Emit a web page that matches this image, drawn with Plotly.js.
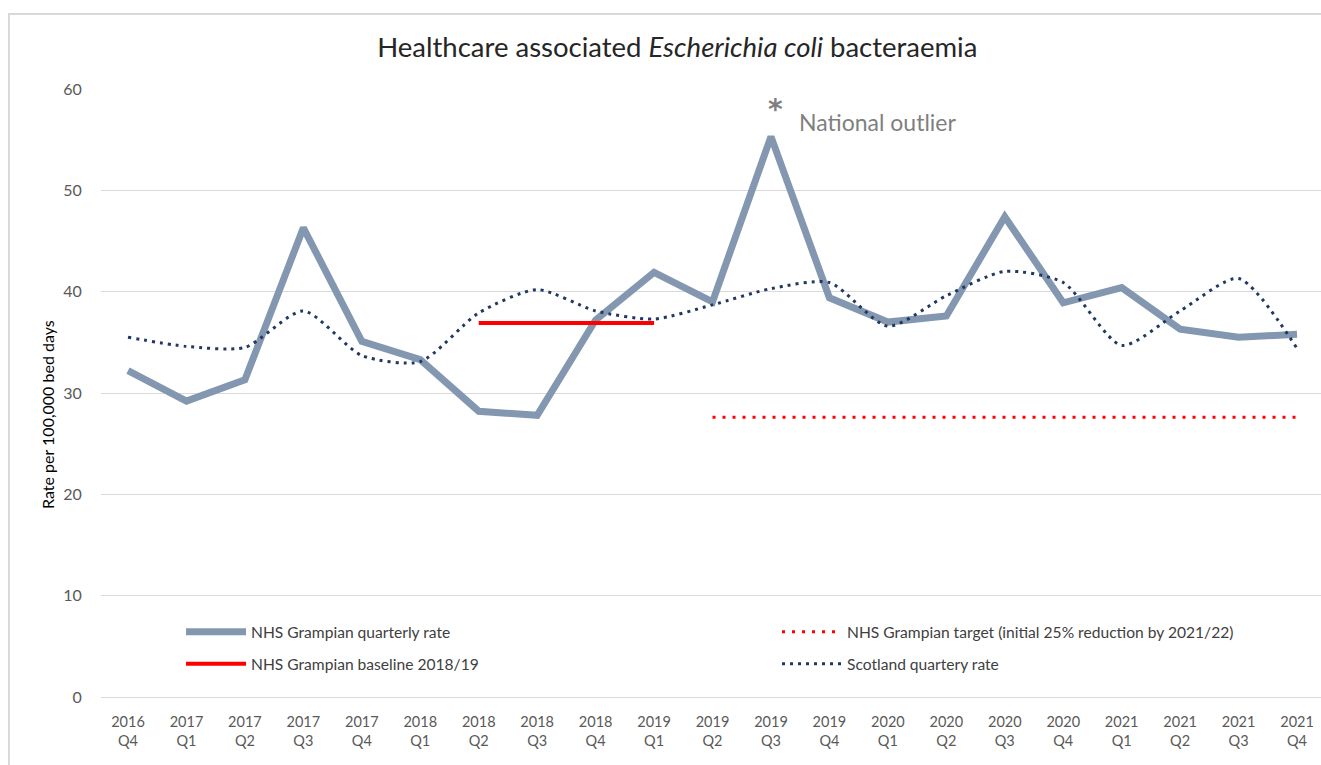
<!DOCTYPE html>
<html>
<head>
<meta charset="utf-8">
<script src="https://cdn.plot.ly/plotly-3.0.1.min.js"></script>
<style>
  html, body { margin: 0; padding: 0; overflow: hidden; background: #fff; width: 1321px; height: 765px; }
  #frame { position: absolute; left: 8px; top: 13px; width: 1330px; height: 770px; border: 2px solid #d9d9d9; box-sizing: border-box; }
  #chart { position: absolute; left: 10px; top: 15px; width: 1311px; height: 750px; }
</style>
</head>
<body>
<div id="frame"></div>
<div id="chart"></div>
<script>
const quarters = ["2016<br>Q4","2017<br>Q1","2017<br>Q2","2017<br>Q3","2017<br>Q4","2018<br>Q1","2018<br>Q2","2018<br>Q3","2018<br>Q4","2019<br>Q1","2019<br>Q2","2019<br>Q3","2019<br>Q4","2020<br>Q1","2020<br>Q2","2020<br>Q3","2020<br>Q4","2021<br>Q1","2021<br>Q2","2021<br>Q3","2021<br>Q4"];

const grampianRate = [32.2, 29.2, 31.3, 46.3, 35.1, 33.3, 28.2, 27.8, 37.2, 41.9, 39.0, 55.3, 39.4, 37.0, 37.6, 47.4, 38.9, 40.4, 36.3, 35.5, 35.8];
const scotlandRate = [35.5, 34.6, 34.5, 38.1, 33.7, 33.1, 37.9, 40.2, 38.1, 37.3, 38.7, 40.3, 40.9, 36.6, 39.6, 42.0, 40.9, 34.7, 38.1, 41.3, 34.4];

const baselineQuarters = ["2018<br>Q2","2018<br>Q3","2018<br>Q4","2019<br>Q1"];
const baselineValue = 36.9;
const targetQuarters = ["2019<br>Q2","2019<br>Q3","2019<br>Q4","2020<br>Q1","2020<br>Q2","2020<br>Q3","2020<br>Q4","2021<br>Q1","2021<br>Q2","2021<br>Q3","2021<br>Q4"];
const targetValue = 27.6;

const yTicks = [0, 10, 20, 30, 40, 50, 60];

const FONT = "Lato, 'Open Sans', sans-serif";

const traces = [
  {
    x: quarters, y: grampianRate, type: "scatter", mode: "lines",
    name: "NHS Grampian quarterly rate",
    line: { color: "#8497b0", width: 7 },
    legend: "legend"
  },
  {
    x: baselineQuarters, y: baselineQuarters.map(() => baselineValue), type: "scatter", mode: "lines",
    name: "NHS Grampian baseline 2018/19",
    line: { color: "#ff0000", width: 4 },
    legend: "legend3"
  },
  {
    x: targetQuarters, y: targetQuarters.map(() => targetValue), type: "scatter", mode: "lines",
    name: "NHS Grampian target (initial 25% reduction by 2021/22)",
    line: { color: "#ff0000", width: 3, dash: "3px,7px" },
    legend: "legend2"
  },
  {
    x: quarters, y: scotlandRate, type: "scatter", mode: "lines",
    name: "Scotland quartery rate",
    line: { color: "#1f3864", width: 3, dash: "3px,5px", shape: "spline", smoothing: 0.7 },
    legend: "legend4"
  }
];

const legendCommon = {
  orientation: "h",
  itemwidth: 60,
  bgcolor: "rgba(0,0,0,0)",
  font: { family: FONT, size: 15.6, color: "#404040" },
  xanchor: "left", yanchor: "middle"
};

const layout = {
  width: 1311, height: 750,
  margin: { l: 91, r: 0, t: 74, b: 68 },
  paper_bgcolor: "#ffffff", plot_bgcolor: "#ffffff",
  font: { family: FONT, color: "#595959" },
  title: {
    text: "Healthcare associated <i>Escherichia coli</i> bacteraemia",
    font: { family: FONT, size: 27.5, color: "#262626" },
    xref: "container", x: 0.509, xanchor: "center",
    yref: "container", y: 0.957, yanchor: "middle"
  },
  xaxis: {
    type: "category",
    categoryorder: "array", categoryarray: quarters,
    range: [-0.462, 20.41],
    showgrid: false, zeroline: false,
    showline: true, linecolor: "#d9d9d9", linewidth: 1,
    ticks: "outside", ticklen: 12, tickcolor: "rgba(0,0,0,0)",
    tickfont: { family: FONT, size: 14.5, color: "#595959" },
    fixedrange: true
  },
  yaxis: {
    range: [0, 60],
    tickvals: yTicks,
    showgrid: true, gridcolor: "#d9d9d9", gridwidth: 1,
    zeroline: false, showline: false,
    ticks: "outside", ticklen: 15, tickcolor: "rgba(0,0,0,0)",
    tickfont: { family: FONT, size: 16, color: "#595959" },
    fixedrange: true
  },
  legend:  Object.assign({}, legendCommon, { x: 0.0656, y: 0.1069 }),
  legend2: Object.assign({}, legendCommon, { x: 0.5541, y: 0.1069 }),
  legend3: Object.assign({}, legendCommon, { x: 0.0656, y: 0.0543 }),
  legend4: Object.assign({}, legendCommon, { x: 0.5541, y: 0.0543 }),
  showlegend: true,
  annotations: [
    {
      x: -0.0435, y: 0.4655, xref: "paper", yref: "paper",
      text: "Rate per 100,000 bed days", showarrow: false, textangle: -90,
      font: { family: FONT, size: 16, color: "#000000" },
      xanchor: "center", yanchor: "middle"
    },
    {
      x: 11, y: 58.0, xref: "x", yref: "y", xshift: 5,
      text: "*", showarrow: false,
      font: { family: "'DejaVu Sans', sans-serif", size: 28, color: "#7f7f7f", weight: "bold" },
      xanchor: "center", yanchor: "middle"
    },
    {
      x: 11, y: 56.7, xref: "x", yref: "y", xshift: 26,
      text: "National outlier", showarrow: false,
      font: { family: FONT, size: 23, color: "#7f7f7f" },
      xanchor: "left", yanchor: "middle"
    }
  ]
};

Plotly.newPlot("chart", traces, layout, { displayModeBar: false, staticPlot: true });
</script>
</body>
</html>
